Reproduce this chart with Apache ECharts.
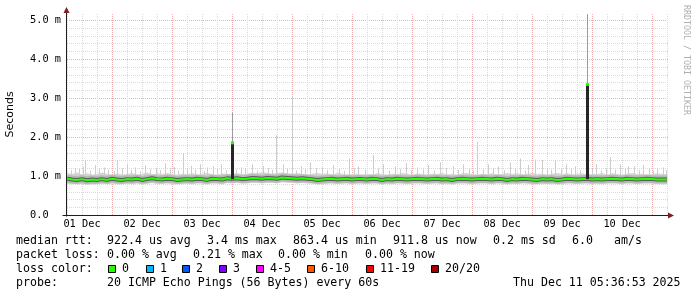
<!DOCTYPE html>
<html><head><meta charset="utf-8">
<script src="https://cdn.jsdelivr.net/npm/echarts@6/dist/echarts.min.js"></script>
<style>html,body{margin:0;padding:0;background:#fff;}#c{width:697px;height:297px;}</style>
</head><body><div id="c"></div>
<script>
// x values: hours since 01 Dec 2025 00:00
const startHour = 6;
const endHour = 246;
const yMax = 5.1538; // ms at top of plot

const dayLabels = ['01 Dec','02 Dec','03 Dec','04 Dec','05 Dec','06 Dec','07 Dec','08 Dec','09 Dec','10 Dec'];
const dayLabelHours = [12,36,60,84,108,132,156,180,204,228];
const yTickLabels = ['0.0','1.0 m','2.0 m','3.0 m','4.0 m','5.0 m'];

const sampleHours = [
  6,8,10,12,14,16,18,20,22,24,26,28,
  30,32,34,36,38,40,42,44,46,48,50,52,
  54,56,58,60,62,64,66,68,70,72,74,76,
  78,80,82,84,86,88,90,92,94,96,98,100,
  102,104,106,108,110,112,114,116,118,120,122,124,
  126,128,130,132,134,136,138,140,142,144,146,148,
  150,152,154,156,158,160,162,164,166,168,170,172,
  174,176,178,180,182,184,186,188,190,192,194,196,
  198,200,202,204,206,208,210,212,214,216,218,220,
  222,224,226,228,230,232,234,236,238,240,242,244,246
];
const medianRtt = [
  0.93,0.91,0.90,0.92,0.89,0.91,0.90,0.92,0.90,0.93,0.91,0.90,
  0.92,0.91,0.93,0.90,0.92,0.94,0.92,0.91,0.93,0.92,0.90,0.91,
  0.92,0.91,0.93,0.92,0.90,0.93,0.92,0.91,0.94,0.93,0.94,0.92,
  0.93,0.95,0.94,0.93,0.95,0.94,0.93,0.96,0.95,0.94,0.93,0.94,
  0.93,0.92,0.90,0.91,0.92,0.93,0.91,0.92,0.93,0.91,0.92,0.92,
  0.91,0.93,0.92,0.90,0.92,0.91,0.93,0.92,0.91,0.92,0.93,0.92,
  0.91,0.92,0.93,0.91,0.92,0.90,0.92,0.93,0.92,0.91,0.92,0.93,
  0.92,0.91,0.93,0.92,0.90,0.92,0.91,0.93,0.92,0.91,0.90,0.92,
  0.91,0.92,0.90,0.91,0.93,0.92,0.91,0.92,0.93,0.91,0.92,0.91,
  0.92,0.93,0.92,0.91,0.93,0.92,0.91,0.92,0.93,0.92,0.91,0.91,0.91
];
const smokeLow = [
  0.79,0.80,0.78,0.80,0.77,0.79,0.78,0.80,0.79,0.81,0.78,0.79,
  0.80,0.79,0.81,0.78,0.80,0.82,0.79,0.80,0.81,0.79,0.78,0.80,
  0.80,0.79,0.81,0.80,0.78,0.81,0.80,0.79,0.82,0.81,0.82,0.80,
  0.81,0.83,0.82,0.81,0.83,0.82,0.81,0.84,0.83,0.82,0.81,0.82,
  0.81,0.80,0.78,0.79,0.80,0.81,0.79,0.80,0.81,0.79,0.80,0.80,
  0.79,0.81,0.80,0.78,0.80,0.79,0.81,0.80,0.79,0.80,0.81,0.80,
  0.79,0.80,0.81,0.79,0.80,0.78,0.80,0.81,0.80,0.79,0.80,0.81,
  0.80,0.79,0.81,0.80,0.78,0.80,0.79,0.81,0.80,0.79,0.78,0.80,
  0.79,0.80,0.78,0.79,0.81,0.80,0.79,0.80,0.81,0.79,0.80,0.79,
  0.80,0.81,0.80,0.79,0.81,0.80,0.79,0.80,0.81,0.80,0.79,0.79,0.79
];
const smokeHigh = [
  1.08,1.05,1.09,1.04,1.07,1.03,1.06,1.09,1.05,1.03,1.07,1.04,
  1.05,1.08,1.03,1.06,1.09,1.04,1.07,1.05,1.08,1.05,1.03,1.06,
  1.05,1.07,1.04,1.06,1.08,1.05,1.03,1.07,1.05,1.06,1.08,1.05,
  1.06,1.09,1.07,1.10,1.08,1.06,1.08,1.09,1.07,1.06,1.08,1.05,
  1.04,1.06,1.08,1.05,1.07,1.04,1.08,1.06,1.03,1.06,1.05,1.04,
  1.06,1.04,1.07,1.05,1.03,1.06,1.05,1.08,1.06,1.03,1.07,1.05,
  1.04,1.06,1.05,1.08,1.04,1.06,1.03,1.07,1.08,1.05,1.04,1.06,
  1.05,1.07,1.04,1.06,1.08,1.05,1.07,1.04,1.06,1.08,1.05,1.06,
  1.04,1.06,1.08,1.05,1.07,1.04,1.06,1.07,1.04,1.06,1.05,1.07,
  1.04,1.07,1.05,1.03,1.06,1.08,1.05,1.06,1.04,1.05,1.07,1.05,1.05
];
// [hour, top of ping smoke (ms)]
const thinSpikes = [
  [9,1.20],[12.4,1.23],[13.2,1.41],[17,1.28],[20.6,1.22],[26,1.41],[30,1.30],[33.2,1.22],
  [37,1.27],[41.4,1.20],[45,1.33],[48.6,1.24],[52.4,1.59],[55.4,1.26],[59.2,1.30],[62,1.22],
  [64.4,1.25],[67.6,1.30],[75.4,1.22],[80,1.30],[84.2,1.26],[89.6,2.05],[92.4,1.30],[96,3.05],
  [99.4,1.25],[103.2,1.35],[108,1.22],[112.4,1.28],[118.8,1.45],[122.4,1.25],[128.4,1.54],[132.2,1.30],
  [137,1.24],[141.4,1.33],[146,1.22],[150.4,1.28],[155,1.35],[160.2,1.25],[164.4,1.30],[170,1.87],
  [174.2,1.30],[178.4,1.24],[183,1.35],[187.2,1.45],[190.4,1.28],[193.2,1.42],[196,1.41],[201.2,1.40],
  [205.4,1.30],[209,1.25],[217.4,1.30],[223.2,1.49],[227.2,1.30],[230.4,1.25],[232.8,1.25],[236.4,1.28],
  [242,1.20],[244.4,1.22],
  [7.4,1.15],[10.6,1.18],[15,1.14],[18.8,1.19],[22.4,1.16],[24.6,1.13],[28,1.20],[31.6,1.16],
  [35,1.12],[39,1.18],[43,1.15],[47,1.19],[50.4,1.14],[54,1.20],[57,1.16],[60.6,1.13],
  [66,1.18],[69.4,1.15],[73.6,1.17],[77,1.19],[82,1.14],[86.4,1.20],[88,1.16],[94,1.18],
  [97.6,1.14],[101,1.17],[105.4,1.20],[110,1.15],[114.6,1.18],[116.6,1.13],[120.6,1.20],[125,1.16],
  [130.4,1.19],[134.6,1.14],[139,1.18],[143.6,1.15],[148.4,1.17],[152.6,1.14],[157.4,1.20],[162.4,1.16],
  [166.6,1.18],[168.4,1.13],[172.4,1.17],[176.4,1.20],[180.6,1.15],[185,1.18],[189,1.14],[198,1.20],
  [199.6,1.16],[203.4,1.17],[207.4,1.19],[211,1.15],[216,1.18],[219.6,1.14],[221.4,1.20],[225,1.16],
  [229,1.18],[234.6,1.15],[238.6,1.19],[240.4,1.14],[245.6,1.16]
];
// [hour, base (ms), median peak (ms), smoke top (ms)]
const bigSpikes = [
  [71.8, 0.92, 1.85, 2.62],
  [214, 0.92, 3.35, 5.15]
];

const legendRow1 = ['median rtt:','922.4 us avg','3.4 ms max','863.4 us min','911.8 us now','0.2 ms sd','6.0','am/s'];
const legendRow2 = ['packet loss:','0.00 % avg','0.21 % max','0.00 % min','0.00 % now'];
const legendRow3Title = 'loss color:';
const lossBuckets = ['0','1','2','3','4-5','6-10','11-19','20/20'];
const lossColors = ['#26ff00','#00b8ff','#0059ff','#7e00ff','#ff00ff','#ff5500','#ff0000','#a10000'];
const legendRow4 = ['probe:','20 ICMP Echo Pings (56 Bytes) every 60s','Thu Dec 11 05:36:53 2025'];
const yAxisTitle = 'Seconds';
const watermark = 'RRDTOOL / TOBI OETIKER';

// ---------- layout / style ----------
const MONO = '"DejaVu Sans Mono", monospace';
const GRID_C = '#d9d9d9', MGRID_C = '#f0b0b0', AXIS_C = '#1f1f1f', ARROW_C = '#801f1f';

const vGrid = []; for (let h = startHour; h <= endHour + 1e-6; h += 6) vGrid.push([h, 0]);
const hGrid = []; for (let k = 1; k * 0.2 < yMax; k++) hGrid.push([startHour, Math.round(k * 0.2 * 10) / 10]);

const pair = (arr) => sampleHours.map((h, i) => [h, arr[i]]);
const smokeData = sampleHours.map((h, i) => [h, smokeLow[i], smokeHigh[i],
  i + 1 < sampleHours.length ? sampleHours[i + 1] : h,
  i + 1 < sampleHours.length ? smokeLow[i + 1] : smokeLow[i],
  i + 1 < sampleHours.length ? smokeHigh[i + 1] : smokeHigh[i]]);

const option = {
  animation: false,
  backgroundColor: '#fff',
  grid: { left: 67, right: 30, top: 14, bottom: 82, containLabel: false, outerBoundsMode: 'none' },
  xAxis: { type: 'value', min: startHour, max: endHour, axisLine: { show: false }, axisTick: { show: false },
           axisLabel: { show: false }, splitLine: { show: false } },
  yAxis: { type: 'value', min: 0, max: yMax, interval: 1, axisLine: { show: false }, axisTick: { show: false },
           splitLine: { show: false },
           axisLabel: { align: 'left', margin: 37, fontFamily: MONO, fontSize: 10.3, color: '#000',
                        showMaxLabel: false,
                        formatter: v => (Math.abs(v - Math.round(v)) < 1e-6 ? (yTickLabels[Math.round(v)] || '') : '') } },
  series: [
    { type: 'custom', name: 'hgrid', z: 1, silent: true, data: hGrid, encode: { x: 0, y: 1 },
      renderItem: (p, api) => {
        const v = api.value(1);
        const a = api.coord([startHour, v]), b = api.coord([endHour, v]);
        const y = Math.round(a[1]) + 0.5;
        const major = Math.abs(v - Math.round(v)) < 1e-6;
        return { type: 'line', shape: { x1: Math.round(a[0]), y1: y, x2: Math.round(b[0]) + 1, y2: y },
                 style: { stroke: major ? MGRID_C : GRID_C, lineWidth: 1, lineDash: [1, 1] } };
      } },
    { type: 'custom', name: 'vgrid', z: 1, silent: true, data: vGrid, encode: { x: 0, y: 1 },
      renderItem: (p, api) => {
        const h = api.value(0);
        const a = api.coord([h, 0]), b = api.coord([h, yMax]);
        const x = Math.round(a[0]) + 0.5;
        const major = Math.abs(h % 24) < 1e-6;
        return { type: 'line', shape: { x1: x, y1: Math.round(a[1]), x2: x, y2: Math.round(b[1]) },
                 style: { stroke: major ? MGRID_C : GRID_C, lineWidth: 1, lineDash: [1, 1] } };
      } },
    { type: 'custom', name: 'smoke', z: 2, silent: true, data: smokeData, encode: { x: 0, y: 2 },
      renderItem: (p, api) => {
        const h0 = api.value(0), h1 = api.value(3);
        if (h1 <= h0) return null;
        const a = api.coord([h0, api.value(1)]), b = api.coord([h1, api.value(4)]);
        const c = api.coord([h1, api.value(5)]), d = api.coord([h0, api.value(2)]);
        return { type: 'polygon', shape: { points: [[a[0], a[1]], [b[0] + 0.7, b[1]], [c[0] + 0.7, c[1]], [d[0], d[1]]] },
                 style: { fill: '#d6d6d6' } };
      } },
    { type: 'custom', name: 'thinSpikes', z: 3, silent: true, data: thinSpikes, encode: { x: 0, y: 1 },
      renderItem: (p, api) => {
        const h = api.value(0), top = api.value(1);
        const a = api.coord([h, 1.0]), b = api.coord([h, top]);
        const x = Math.round(a[0]) + 0.5;
        return { type: 'line', shape: { x1: x, y1: a[1], x2: x, y2: b[1] },
                 style: { stroke: '#cdcdcd', lineWidth: 1 } };
      } },
    { type: 'line', name: 'midSmoke', z: 4, silent: true, symbol: 'none', showSymbol: false,
      data: pair(medianRtt), lineStyle: { color: '#b8b8b8', width: 8 } },
    { type: 'line', name: 'coreSmoke', z: 5, silent: true, symbol: 'none', showSymbol: false,
      data: pair(medianRtt), lineStyle: { color: '#5a5a5a', width: 4 } },
    { type: 'line', name: 'median', z: 6, silent: true, symbol: 'none', showSymbol: false,
      data: pair(medianRtt), lineStyle: { color: '#26ff00', width: 2 } },
    { type: 'custom', name: 'bigSpikes', z: 7, silent: true, data: bigSpikes, encode: { x: 0, y: 2 },
      renderItem: (p, api) => {
        const h = api.value(0), base = api.value(1), med = api.value(2), top = api.value(3);
        const a = api.coord([h, base]), m = api.coord([h, med]), t = api.coord([h, top]);
        const x = Math.round(a[0]);
        return { type: 'group', children: [
          { type: 'line', shape: { x1: x + 0.5, y1: m[1], x2: x + 0.5, y2: t[1] }, style: { stroke: '#9a9a9a', lineWidth: 1 } },
          { type: 'rect', shape: { x: x - 1, y: m[1], width: 3, height: a[1] - m[1] }, style: { fill: '#262626' } },
          { type: 'rect', shape: { x: x - 1, y: m[1] - 1.5, width: 3, height: 3 }, style: { fill: '#26ff00' } }
        ] };
      } },
    { type: 'custom', name: 'dayLabels', z: 8, silent: true, clip: false,
      data: dayLabelHours.map((h, i) => [h, 0, i]), encode: { x: 0, y: 1 },
      renderItem: (p, api) => {
        const c = api.coord([api.value(0), 0]);
        return { type: 'text', x: c[0], y: c[1] + 9.8,
                 style: { text: dayLabels[api.value(2)], font: '10.3px ' + MONO, fill: '#000',
                          textAlign: 'center', textVerticalAlign: 'middle' } };
      } }
  ]
};

const chart = echarts.init(document.getElementById('c'), null, { renderer: 'canvas', width: 697, height: 297 });
chart.setOption(option);

const o = chart.convertToPixel({ gridIndex: 0 }, [startHour, 0]);
const tr = chart.convertToPixel({ gridIndex: 0 }, [endHour, yMax]);
const ax = Math.round(o[0]) - 0.5, ay = Math.round(o[1]) + 0.5;
const topY = Math.round(tr[1]), rightX = Math.round(tr[0]);

const els = [];
els.push({ type: 'line', shape: { x1: ax - 4, y1: ay, x2: rightX + 1, y2: ay }, style: { stroke: AXIS_C, lineWidth: 1 }, z: 100 });
els.push({ type: 'line', shape: { x1: ax, y1: ay + 1, x2: ax, y2: topY - 1 }, style: { stroke: AXIS_C, lineWidth: 1 }, z: 100 });
els.push({ type: 'polygon', shape: { points: [[ax - 3, topY - 1], [ax + 3, topY - 1], [ax, topY - 7]] }, style: { fill: ARROW_C }, z: 100 });
els.push({ type: 'polygon', shape: { points: [[rightX + 1, ay - 3], [rightX + 1, ay + 3], [rightX + 7, ay]] }, style: { fill: ARROW_C }, z: 100 });
els.push({ type: 'text', x: 10, y: (o[1] + tr[1]) / 2, rotation: Math.PI / 2,
           style: { text: yAxisTitle, font: '11px "DejaVu Sans", sans-serif', fill: '#000', textAlign: 'center', textVerticalAlign: 'middle' } });
els.push({ type: 'text', x: 686.5, y: 5, rotation: -Math.PI / 2,
           style: { text: watermark, font: '8.3px ' + MONO, fill: '#b0b0b0', textAlign: 'left', textVerticalAlign: 'middle' } });
const rowY = [241.2, 255.2, 269.2, 283.2];
const LF = '11.6px ' + MONO;
const addText = (t, x, y) => els.push({ type: 'text', x: x, y: y, style: { text: t, font: LF, fill: '#000', textAlign: 'left', textVerticalAlign: 'middle' } });
const row1X = [16, 107, 207, 293, 393, 493, 572, 614];
legendRow1.forEach((t, i) => addText(t, row1X[i], rowY[0]));
const row2X = [16, 107, 193, 278, 365];
legendRow2.forEach((t, i) => addText(t, row2X[i], rowY[1]));
addText(legendRow3Title, 16, rowY[2]);
const boxX = [108, 146, 182, 219, 256, 307, 366, 431];
lossBuckets.forEach((t, i) => {
  els.push({ type: 'rect', shape: { x: boxX[i] + 0.5, y: 265.5, width: 7, height: 7 }, style: { fill: lossColors[i], stroke: '#000', lineWidth: 1 } });
  addText(t, boxX[i] + 14, rowY[2]);
});
const row4X = [16, 107, 513];
legendRow4.forEach((t, i) => addText(t, row4X[i], rowY[3]));

chart.setOption({ graphic: { elements: els } });
</script>
</body></html>
